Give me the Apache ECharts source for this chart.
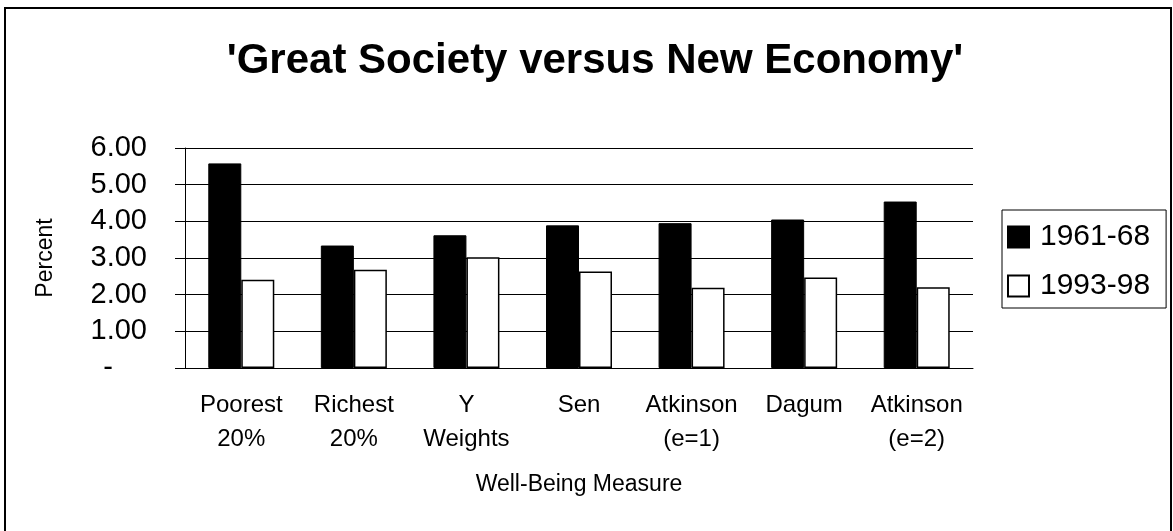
<!DOCTYPE html>
<html>
<head>
<meta charset="utf-8">
<script src="https://cdn.jsdelivr.net/npm/echarts@6/dist/echarts.min.js"></script>
<style>
    html, body { margin: 0; padding: 0; background: #fff; }
    #main { width: 1173px; height: 531px; }
</style>
</head>
<body>
<div id="main"></div>
<script>
/*数据*/
var categories = ['Poorest\n20%', 'Richest\n20%', 'Y\nWeights', 'Sen', 'Atkinson\n(e=1)', 'Dagum', 'Atkinson\n(e=2)'];
var seriesNames = ['1961-68', '1993-98'];
var early = [5.58, 3.34, 3.62, 3.89, 3.95, 4.05, 4.54];
var late = [2.41, 2.68, 3.02, 2.63, 2.19, 2.47, 2.20];
var yTicks = [0, 1, 2, 3, 4, 5, 6];

var fontName = "'Liberation Sans', Arial, sans-serif";

var option = {
    animation: false,
    backgroundColor: '#fff',
    textStyle: {
        fontFamily: fontName,
        color: '#000'
    },
    title: {
        text: "'Great Society versus New Economy'",
        left: 590,
        top: 35,
        textAlign: 'center',
        textStyle: {
            fontFamily: fontName,
            fontSize: 42,
            fontWeight: 'bold',
            color: '#000'
        }
    },
    legend: {
        orient: 'vertical',
        left: 1002,
        top: 210,
        padding: [12, 16, 7, 5],
        itemWidth: 21,
        itemHeight: 21,
        itemGap: 19,
        borderColor: '#000',
        borderWidth: 1,
        icon: 'rect',
        textStyle: {
            fontFamily: fontName,
            fontSize: 30,
            lineHeight: 30,
            color: '#000',
            padding: [0, 0, 0, 6]
        },
        data: seriesNames
    },
    graphic: [{
        type: 'rect',
        shape: { x: 5, y: 8, width: 1166, height: 540 },
        style: { fill: 'none', stroke: '#000', lineWidth: 2 },
        silent: true
    }],
    grid: {
        left: 185,
        right: 200,
        top: 148,
        bottom: 163
    },
    xAxis: {
        type: 'category',
        data: categories,
        name: 'Well-Being Measure',
        nameLocation: 'middle',
        nameGap: 105,
        nameTextStyle: {
            fontFamily: fontName,
            fontSize: 23,
            color: '#000'
        },
        axisLine: {
            lineStyle: { color: '#000', width: 1 }
        },
        axisTick: {
            length: 9,
            lineStyle: { color: '#000' }
        },
        axisLabel: {
            interval: 0,
            margin: 20,
            fontFamily: fontName,
            fontSize: 24,
            lineHeight: 34,
            color: '#000'
        }
    },
    yAxis: {
        type: 'value',
        min: yTicks[0],
        max: yTicks[yTicks.length - 1],
        interval: 1,
        name: 'Percent',
        nameLocation: 'middle',
        nameRotate: 90,
        nameGap: 128,
        nameTextStyle: {
            fontFamily: fontName,
            fontSize: 23,
            color: '#000'
        },
        axisLine: {
            show: true,
            lineStyle: { color: '#000', width: 1 }
        },
        axisTick: {
            show: true,
            length: 10,
            lineStyle: { color: '#000' }
        },
        splitLine: {
            show: true,
            lineStyle: { color: '#000', width: 1 }
        },
        axisLabel: {
            margin: 38,
            fontFamily: fontName,
            fontSize: 29,
            color: '#000',
            formatter: function (v) {
                return v === 0 ? '{z|-}' : v.toFixed(2);
            },
            rich: {
                z: {
                    fontFamily: fontName,
                    fontSize: 29,
                    color: '#000',
                    padding: [0, 34, 0, 0]
                }
            }
        }
    },
    series: [
        {
            name: seriesNames[0],
            type: 'bar',
            barWidth: 33,
            barGap: '0%',
            itemStyle: {
                color: '#000',
                borderColor: '#000',
                borderWidth: 1
            },
            data: early
        },
        {
            name: seriesNames[1],
            type: 'bar',
            barWidth: 33,
            barGap: '0%',
            itemStyle: {
                color: '#fff',
                borderColor: '#000',
                borderWidth: 1.5
            },
            data: late
        }
    ]
};

var chart = echarts.init(document.getElementById('main'));
chart.setOption(option);
</script>
</body>
</html>
